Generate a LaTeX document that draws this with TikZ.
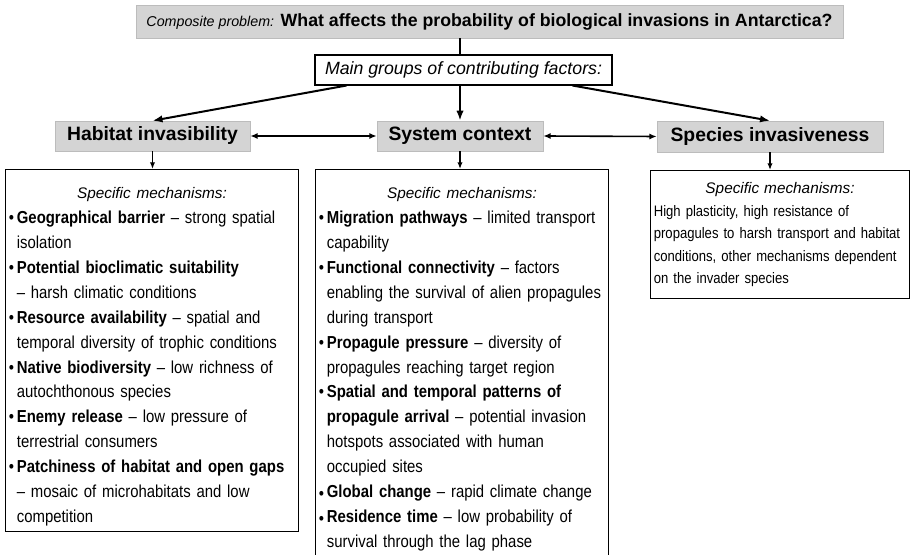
\documentclass[tikz,border=0pt]{standalone}
\usepackage{fontspec}
\setmainfont{Liberation Sans}
\newfontfamily\narrowfont[FakeStretch=0.86]{Liberation Sans}
\usetikzlibrary{arrows.meta}
\definecolor{headgray}{RGB}{212,212,212}
\definecolor{headline}{RGB}{188,188,188}
\newcommand{\bul}{\makebox[6pt][l]{\textbullet}}
\newcommand{\lowbul}{\makebox[6pt][l]{\raisebox{-0.15ex}{\textbullet}}}
\newcommand{\ind}{\hspace*{6pt}}
\newcommand{\spec}{\hfill{\rmfamily\itshape\fontsize{11.5}{14}\selectfont Specific mechanisms:}\hfill\mbox{}}

\begin{document}
\begin{tikzpicture}[x=0.75pt,y=-0.75pt,
    head/.style={draw=headline,fill=headgray,inner sep=0pt,
      font=\bfseries\fontsize{14.5}{17}\selectfont},
    mechbox/.style={draw,line width=0.8pt,anchor=north west,align=left,
      inner xsep=2.5pt,inner ysep=0pt,
      font=\narrowfont\fontsize{13}{18.7}\selectfont},
    link/.style={line width=1.5pt,-{Latex[length=7.5pt,width=5.5pt]}},
    both/.style={line width=1.2pt,{Latex[length=5.5pt,width=4.5pt]}-{Latex[length=5.5pt,width=4.5pt]}},
    down/.style={line width=1pt,-{Latex[length=5pt,width=4pt]}}]

  \clip (0,0) rectangle (911,555);

  % question and groups
  \node[head,minimum width=530.25pt,minimum height=24.75pt,
    font=\bfseries\fontsize{13.3}{16}\selectfont] (problem) at (489.5,21.5)
    {{\mdseries\itshape\fontsize{10.7}{13}\selectfont Composite problem:}
     What affects the probability of biological invasions in Antarctica?};
  \node[draw,fill=white,line width=0.8pt,inner sep=0pt,
    minimum width=222.75pt,minimum height=22.5pt,
    font=\itshape\fontsize{13.3}{16}\selectfont] (groups) at (463.5,70)
    {Main groups of contributing factors:};

  \node[head,minimum width=146.25pt,minimum height=22.5pt] (habitat) at (152.5,136) {Habitat invasibility};
  \node[head,minimum width=124.5pt,minimum height=22.5pt] (context) at (460,136) {System context};
  \node[head,minimum width=169.5pt,minimum height=23.25pt] (species) at (770,136.5) {Species invasiveness};

  % mechanisms
  \node[mechbox,text width=214.75pt,text height=21.75pt,text depth=249.75pt] (habmech) at (5,169)
    {\spec\\
     \bul\textbf{Geographical barrier} – strong spatial\\
     \ind isolation\\
     \bul\textbf{Potential bioclimatic suitability}\\
     \ind – harsh climatic conditions\\
     \bul\textbf{Resource availability} – spatial and\\
     \ind temporal diversity of trophic conditions\\
     \bul\textbf{Native biodiversity} – low richness of\\
     \ind autochthonous species\\
     \bul\textbf{Enemy release} – low pressure of\\
     \ind terrestrial consumers\\
     \bul\textbf{Patchiness of habitat and open gaps}\\
     \ind – mosaic of microhabitats and low\\
     \ind competition};
  \node[mechbox,text width=214.75pt,text height=21.75pt,text depth=273pt] (ctxmech) at (315,169)
    {\spec\\
     \bul\textbf{Migration pathways} – limited transport\\
     \ind capability\\
     \bul\textbf{Functional connectivity} – factors\\
     \ind enabling the survival of alien propagules\\
     \ind during transport\\
     \bul\textbf{Propagule pressure} – diversity of\\
     \ind propagules reaching target region\\
     \bul\textbf{Spatial and temporal patterns of}\\
     \ind\textbf{propagule arrival} – potential invasion\\
     \ind hotspots associated with human\\
     \ind occupied sites\\
     \lowbul\textbf{Global change} – rapid climate change\\
     \lowbul\textbf{Residence time} – low probability of\\
     \ind survival through the lag phase};
  \node[mechbox,text width=189.25pt,text height=17.25pt,text depth=78.75pt,
    font=\narrowfont\fontsize{11.4}{16.9}\selectfont] (spmech) at (650,170)
    {\spec\\
     High plasticity, high resistance of\\
     propagules to harsh transport and habitat\\
     conditions, other mechanisms dependent\\
     on the invader species};

  % connectors
  \draw[line width=1.5pt] (problem.south -| context.north) -- (groups.north -| context.north);
  \draw[link] ([xshift=24pt]groups.south west) -- (habitat.north);
  \draw[link] (groups.south -| context.north) -- (context.north);
  \draw[link] ([xshift=-30pt]groups.south east) -- (species.north);
  \draw[both] (habitat.east) -- (context.west);
  \draw[both] (context.east) -- (species.west);
  \draw[down] (habitat.south) -- (habitat.south |- habmech.north);
  \draw[down] (context.south) -- (context.south |- ctxmech.north);
  \draw[down] (species.south) -- (species.south |- spmech.north);
\end{tikzpicture}
\end{document}
